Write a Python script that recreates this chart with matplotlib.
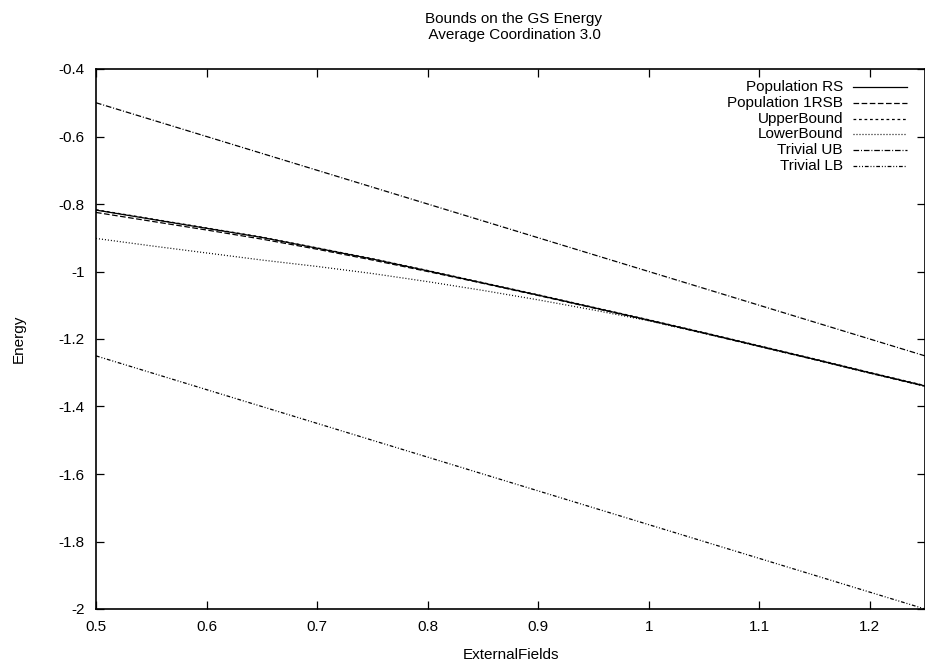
import matplotlib
matplotlib.use('Agg')
import matplotlib.pyplot as plt
from matplotlib.lines import Line2D

plt.rcParams['font.family'] = ['Liberation Sans', 'DejaVu Sans']
plt.rcParams['font.size'] = 11

# external field values and energies
fields = [0.50, 0.55, 0.60, 0.65, 0.70, 0.75, 0.80, 0.85,
          0.90, 0.95, 1.00, 1.05, 1.10, 1.15, 1.20, 1.25]

pop_rs = [-0.818, -0.845, -0.872, -0.899, -0.931, -0.963, -0.998, -1.034,
          -1.070, -1.107, -1.144, -1.182, -1.221, -1.260, -1.300, -1.339]
pop_1rsb = [-0.825, -0.851, -0.877, -0.904, -0.934, -0.966, -1.000, -1.035,
            -1.071, -1.108, -1.145, -1.183, -1.222, -1.261, -1.301, -1.340]
upper_bound = [-0.817, -0.844, -0.871, -0.898, -0.930, -0.962, -0.997, -1.033,
               -1.069, -1.106, -1.143, -1.181, -1.220, -1.259, -1.299, -1.338]
lower_bound = [-0.902, -0.924, -0.945, -0.966, -0.985, -1.006, -1.030, -1.056,
               -1.084, -1.114, -1.146, -1.183, -1.222, -1.261, -1.301, -1.340]
trivial_ub = [-0.50, -0.55, -0.60, -0.65, -0.70, -0.75, -0.80, -0.85,
              -0.90, -0.95, -1.00, -1.05, -1.10, -1.15, -1.20, -1.25]
trivial_lb = [-1.25, -1.30, -1.35, -1.40, -1.45, -1.50, -1.55, -1.60,
              -1.65, -1.70, -1.75, -1.80, -1.85, -1.90, -1.95, -2.00]

labels = ['Population RS', 'Population 1RSB', 'UpperBound', 'LowerBound',
          'Trivial UB', 'Trivial LB']
xticks = [0.5, 0.6, 0.7, 0.8, 0.9, 1.0, 1.1, 1.2]
xtick_labels = ['0.5', '0.6', '0.7', '0.8', '0.9', '1', '1.1', '1.2']
yticks = [-2.0, -1.8, -1.6, -1.4, -1.2, -1.0, -0.8, -0.6, -0.4]
ytick_labels = ['-2', '-1.8', '-1.6', '-1.4', '-1.2', '-1', '-0.8', '-0.6', '-0.4']

series = [pop_rs, pop_1rsb, upper_bound, lower_bound, trivial_ub, trivial_lb]
dashes = [None, (4.5, 2), (2.2, 2.2), (0.8, 1.6), (4.5, 1.5, 0.8, 1.5),
          (3, 1.5, 0.8, 1.5, 0.8, 1.5)]

fig = plt.figure(figsize=(9.25, 6.69), dpi=100)
ax = fig.add_axes([96 / 925, 1 - 609 / 669, 829 / 925, 540 / 669])

for vals, d in zip(series, dashes):
    line, = ax.plot(fields, vals, color='black', lw=0.9)
    if d is not None:
        line.set_dashes(d)

ax.set_xlim(0.5, 1.25)
ax.set_ylim(-2.0, -0.4)
ax.set_xticks(xticks)
ax.set_xticklabels(xtick_labels)
ax.set_yticks(yticks)
ax.set_yticklabels(ytick_labels)
ax.tick_params(direction='in', length=6, width=0.9, top=True, right=True, pad=8)
for s in ax.spines.values():
    s.set_linewidth(1.2)

ax.set_xlabel('ExternalFields', labelpad=10)
ax.set_ylabel('Energy', labelpad=24)
fig.text(0.555, 0.982, 'Bounds on the GS Energy\n Average Coordination 3.0',
         ha='center', va='top', linespacing=1.2)

# gnuplot-style key: right-aligned labels with line samples after them
row_y = 0.967
for lab, d in zip(labels, dashes):
    ax.text(0.901, row_y, lab, ha='right', va='center', transform=ax.transAxes)
    sample = Line2D([0.913, 0.978], [row_y, row_y], color='black', lw=0.9,
                    transform=ax.transAxes)
    if d is not None:
        sample.set_dashes(d)
    ax.add_line(sample)
    row_y -= 0.0294

fig.savefig('out.png', dpi=100)
